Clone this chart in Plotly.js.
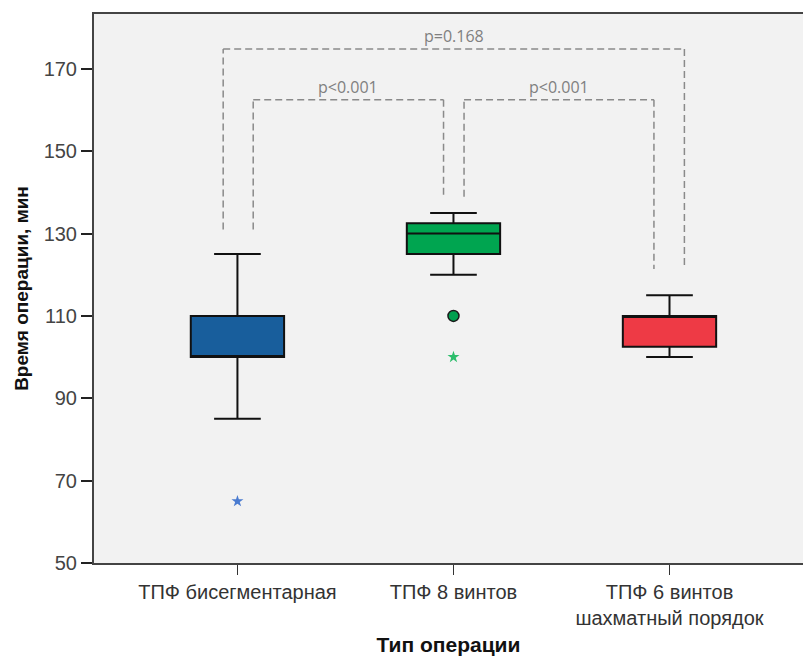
<!DOCTYPE html>
<html><head><meta charset="utf-8">
<script src="https://cdn.plot.ly/plotly-3.0.1.min.js"></script>
<style>html,body{margin:0;padding:0;background:#fff}</style>
</head><body>
<div id="chart" style="width:803px;height:656px"></div>
<script>
// Data
const categories = ['ТПФ бисегментарная', 'ТПФ 8 винтов', 'ТПФ 6 винтов<br>шахматный порядок'];
const lowerWhisker = [85, 120, 100];
const q1Values = [100, 125, 102.5];
const medianValues = [100, 130, 110];
const q3Values = [110, 132.5, 110];
const upperWhisker = [125, 135, 115];
const boxColors = ['#185E9C', '#00A550', '#EE3A45'];
// outliers
const circleOutlierCat = ['ТПФ 8 винтов'];
const circleOutlierVal = [110];
const starOutlierCat = ['ТПФ бисегментарная', 'ТПФ 8 винтов'];
const starOutlierVal = [65, 100];
const starColors = ['#4A7BD0', '#2DBE6C'];
// significance brackets: [x1, x2, top, leftBottom, rightBottom]
const bracketLabels = ['p=0.168', 'p<0.001', 'p<0.001'];
const bracketX1 = [-0.066, 0.073, 1.049];
const bracketX2 = [2.069, 0.954, 1.928];
const bracketTop = [174.8, 162.5, 162.5];
const bracketLeftBottom = [131.0, 131.0, 138.9];
const bracketRightBottom = [121.4, 138.9, 121.4];

const traces = categories.map((c, i) => ({
  type: 'box',
  x: [c],
  q1: [q1Values[i]],
  median: [medianValues[i]],
  q3: [q3Values[i]],
  lowerfence: [lowerWhisker[i]],
  upperfence: [upperWhisker[i]],
  fillcolor: boxColors[i],
  line: {color: '#111', width: 2},
  width: 0.432,
  whiskerwidth: 0.5,
  boxpoints: false,
  showlegend: false,
  hoverinfo: 'skip'
}));
traces.push({
  type: 'scatter', mode: 'markers', x: circleOutlierCat, y: circleOutlierVal,
  marker: {symbol: 'circle', size: 11, color: '#00A04F', line: {color: '#1a1a1a', width: 1.5}},
  showlegend: false, hoverinfo: 'skip'
});
traces.push({
  type: 'scatter', mode: 'markers', x: starOutlierCat, y: starOutlierVal,
  marker: {symbol: 'star', size: 9, color: starColors, line: {width: 0}},
  showlegend: false, hoverinfo: 'skip'
});

const shapes = [];
const annotations = [];
const dashLine = {color: '#8a8a8a', width: 1.5, dash: '7px,4px'};
bracketLabels.forEach((lab, i) => {
  const pts = [[bracketX1[i], bracketLeftBottom[i]], [bracketX1[i], bracketTop[i]],
               [bracketX2[i], bracketTop[i]], [bracketX2[i], bracketRightBottom[i]]];
  for (let k = 0; k < 3; k++) {
    shapes.push({type: 'line', xref: 'x', yref: 'y', x0: pts[k][0], y0: pts[k][1],
                 x1: pts[k+1][0], y1: pts[k+1][1], line: dashLine});
  }
  annotations.push({xref: 'x', yref: 'y', x: (bracketX1[i] + bracketX2[i]) / 2, y: bracketTop[i],
    text: lab, showarrow: false, yanchor: 'bottom', yshift: 0,
    font: {family: 'Open Sans, sans-serif', size: 16, color: '#808080'}});
});

const layout = {
  width: 803, height: 656,
  margin: {l: 94, r: 0, t: 14, b: 93},
  paper_bgcolor: '#ffffff',
  plot_bgcolor: '#f2f2f2',
  boxmode: 'overlay',
  xaxis: {
    type: 'category',
    range: [-0.664, 2.618],
    showgrid: false, zeroline: false,
    showline: true, linecolor: '#444', linewidth: 2, mirror: true,
    ticks: 'outside', ticklen: 10, tickwidth: 1, tickcolor: '#333',
    tickfont: {family: 'Liberation Sans, Arial, sans-serif', size: 20, color: '#333'},
    title: {text: 'Тип операции', font: {family: 'Liberation Sans, Arial, sans-serif', size: 21, color: '#111', weight: 'bold'}, standoff: 22}
  },
  yaxis: {
    range: [50, 183.3],
    tickvals: [50, 70, 90, 110, 130, 150, 170],
    showgrid: false, zeroline: false,
    showline: true, linecolor: '#444', linewidth: 2,
    ticks: 'outside', ticklen: 11, tickwidth: 2, tickcolor: '#222',
    tickfont: {family: 'Liberation Sans, Arial, sans-serif', size: 20, color: '#444'},
    title: {text: 'Время операции, мин', font: {family: 'Liberation Sans, Arial, sans-serif', size: 19, color: '#111', weight: 'bold'}, standoff: 10}
  },
  shapes: shapes,
  annotations: annotations
};
Plotly.newPlot('chart', traces, layout, {displayModeBar: false, staticPlot: true});
</script>
</body></html>
